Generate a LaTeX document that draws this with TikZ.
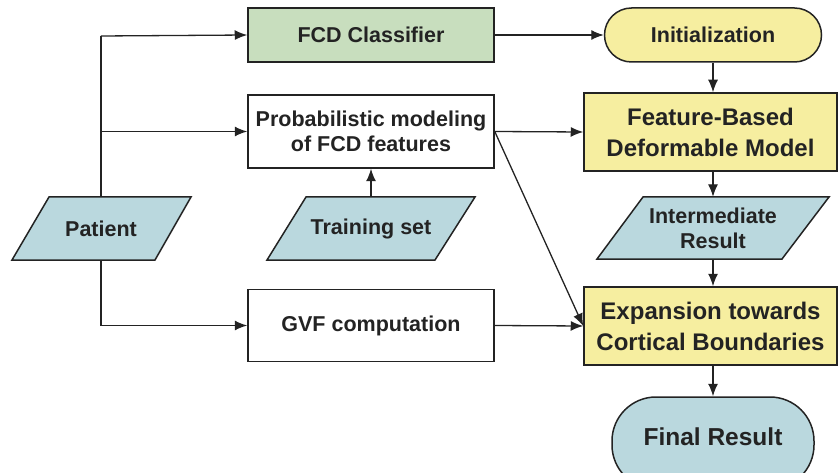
\documentclass[tikz,border=0pt]{standalone}
\usepackage{fontspec}
\setmainfont{Liberation Sans}
\usetikzlibrary{arrows.meta}
\definecolor{boxgreen}{RGB}{200,222,190}
\definecolor{boxyellow}{RGB}{246,238,160}
\definecolor{boxblue}{RGB}{186,216,222}
\definecolor{ink}{RGB}{35,35,35}
\tikzset{
  base/.style={draw=ink, line width=1.5pt, text=ink, font=\bfseries\fontsize{21.5}{25}\selectfont, align=center, inner sep=0pt},
  whitebox/.style={base, fill=white, minimum width=246pt},
  bigbox/.style={base, fill=boxyellow, minimum width=253pt, minimum height=78pt, font=\bfseries\fontsize{24}{31}\selectfont},
  para/.style={draw=ink, line width=1.5pt, fill=boxblue},
  label/.style={text=ink, font=\bfseries\fontsize{21.5}{25}\selectfont, align=center, inner sep=0pt},
  arr/.style={draw=ink, line width=1.3pt, -{Latex[length=12.5pt,width=10pt]}},
  ln/.style={draw=ink, line width=1.3pt},
}
\begin{document}
\begin{tikzpicture}[x=1pt,y=-1pt]
\useasboundingbox (0,0) rectangle (838,473);
\clip (0,0) rectangle (838,473);
% boxes
\node[whitebox, fill=boxgreen, minimum height=54pt] (fcd) at (371,35) {FCD Classifier};
\node[whitebox, minimum height=73pt] (prob) at (371,131.5) {Probabilistic modeling\\of FCD features};
\node[whitebox, minimum height=72pt] (gvf) at (371,325.5) {GVF computation};
\node[base, fill=boxyellow, minimum width=217pt, minimum height=54pt, rounded corners=27pt] (init) at (713,35) {Initialization};
\node[bigbox] (feat) at (710.5,132) {Feature-Based\\Deformable Model};
\node[bigbox] (exp) at (710.5,326) {Expansion towards\\Cortical Boundaries};
\node[base, fill=boxblue, minimum width=202pt, minimum height=92pt, rounded corners=44pt] (final) at (713,443) {};
\node[label, font=\bfseries\fontsize{24.5}{31}\selectfont] (finaltext) at (713,437) {Final Result};
% parallelograms
\draw[para] (49,197) -- (191,197) -- (155,260) -- (12,260) -- cycle;
\node[label, minimum width=140pt, minimum height=63pt] (patient) at (101,228.5) {Patient};
\draw[para] (306,197) -- (475,197) -- (435,260) -- (267,260) -- cycle;
\node[label, minimum width=160pt, minimum height=63pt] (train) at (371,228.5) {Training set};
\draw[para] (643,197) -- (829,197) -- (782,259) -- (597,259) -- cycle;
\node[label, minimum width=180pt, minimum height=62pt] (inter) at (713,228) {Intermediate\\Result};
% connectors
\coordinate (pt) at (101,36);
\coordinate (pm) at (101,131.5);
\coordinate (pb) at (101,325.5);
\draw[ln] (patient.north) -- (pt);
\draw[arr] (pt) -- (fcd.west);
\draw[arr] (pm) -- (prob.west);
\draw[arr] (patient.south) -- (pb) -- (gvf.west);
\draw[arr] (train.north) -- (prob.south);
\draw[arr] (fcd.east) -- (init.west);
\draw[arr] (prob.east) -- (feat.west);
\draw[arr] (prob.east) -- (exp.west);
\draw[arr] (gvf.east) -- (exp.west);
\draw[arr] (init.south) -- (init.south |- feat.north);
\draw[arr] (inter.north |- feat.south) -- (inter.north);
\draw[arr] (inter.south) -- (inter.south |- exp.north);
\draw[arr] (final.north |- exp.south) -- (final.north);
\end{tikzpicture}
\end{document}
